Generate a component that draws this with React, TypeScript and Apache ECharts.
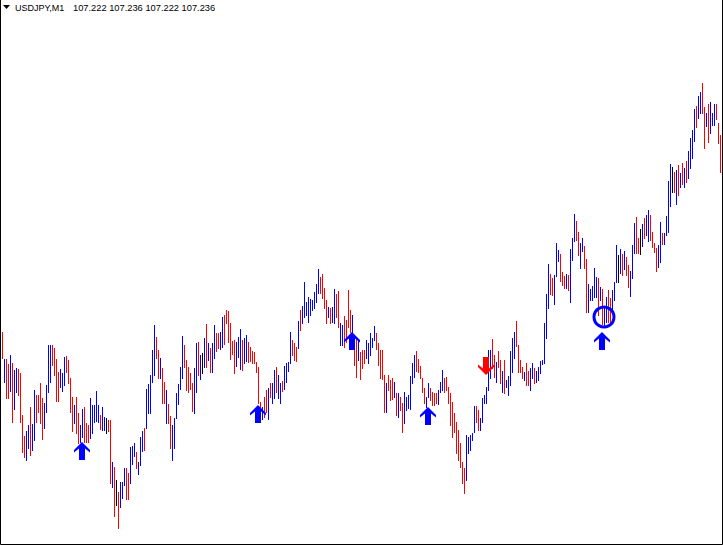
import { useEffect, useRef } from "react";
import * as echarts from "echarts";

// Chart title and last quote (open, high, low, close)
const symbolLabel = "USDJPY,M1";
const quoteLabels = ["107.222", "107.236", "107.222", "107.236"];

// Bar highs and lows in chart points (one value per 1-minute bar, oldest first)
const highs = [
  213, 186, 186, 181, 190, 182, 175, 177, 176, 172,
  130, 109, 114, 120, 138, 121, 155, 150, 150, 162,
  147, 142, 160, 200, 200, 200, 197, 186, 173, 176,
  172, 188, 189, 185, 167, 148, 140, 148, 132, 120,
  136, 138, 122, 120, 147, 140, 140, 154, 140, 130,
  138, 128, 127, 125, 125, 83, 78, 65, 53, 63,
  63, 77, 77, 72, 98, 99, 102, 93, 83, 108,
  114, 117, 156, 161, 170, 195, 220, 208, 195, 187,
  177, 163, 155, 141, 129, 120, 127, 152, 161, 178,
  209, 200, 185, 178, 172, 162, 177, 202, 203, 190,
  192, 207, 221, 202, 197, 202, 220, 212, 212, 213,
  228, 230, 235, 234, 222, 204, 205, 203, 208, 216,
  205, 207, 210, 203, 198, 194, 193, 183, 178, 143,
  138, 148, 155, 157, 162, 162, 175, 178, 170, 162,
  164, 179, 182, 183, 213, 205, 202, 198, 224, 235,
  239, 263, 243, 248, 246, 245, 253, 261, 276, 268,
  271, 257, 245, 238, 237, 238, 256, 251, 254, 222,
  220, 229, 225, 255, 235, 230, 200, 207, 205, 193,
  195, 195, 205, 202, 212, 207, 219, 212, 202, 195,
  195, 170, 162, 170, 165, 167, 163, 152, 152, 148,
  142, 153, 148, 150, 169, 182, 190, 194, 186, 179,
  167, 157, 148, 162, 157, 153, 152, 152, 155, 163,
  175, 167, 168, 158, 152, 143, 132, 123, 115, 102,
  83, 77, 110, 108, 110, 112, 139, 139, 135, 127,
  147, 150, 158, 195, 195, 206, 190, 183, 194, 185,
  174, 185, 165, 169, 194, 207, 213, 224, 200, 185,
  178, 173, 182, 174, 177, 182, 177, 174, 178, 184,
  185, 222, 251, 281, 271, 267, 270, 302, 295, 291,
  273, 269, 271, 270, 296, 307, 331, 324, 313, 302,
  307, 299, 286, 261, 256, 259, 277, 268, 267, 258,
  256, 238, 248, 255, 247, 255, 263, 300, 290, 296,
  291, 294, 288, 280, 274, 300, 322, 328, 307, 316,
  321, 327, 330, 335, 330, 313, 302, 297, 300, 323,
  312, 312, 329, 364, 381, 378, 373, 375, 380, 372,
  382, 377, 384, 394, 407, 415, 436, 439, 449, 453,
  462, 438, 432, 441, 443, 432, 441, 441, 422, 410,
];

const lows = [
  187, 163, 147, 147, 154, 123, 136, 153, 150, 123,
  93, 88, 85, 97, 90, 95, 105, 123, 133, 122,
  106, 117, 133, 153, 163, 180, 170, 144, 144, 158,
  154, 160, 173, 162, 133, 114, 122, 112, 102, 103,
  108, 103, 103, 103, 107, 112, 123, 124, 123, 116,
  115, 115, 112, 114, 62, 58, 29, 40, 17, 38,
  47, 60, 46, 46, 62, 81, 89, 77, 71, 80,
  94, 95, 117, 132, 132, 163, 170, 187, 167, 167,
  142, 142, 122, 122, 97, 85, 97, 127, 141, 156,
  167, 178, 155, 153, 156, 134, 132, 153, 170, 166,
  172, 178, 178, 185, 173, 173, 187, 194, 197, 196,
  198, 201, 222, 203, 186, 191, 172, 179, 188, 176,
  175, 182, 184, 183, 184, 182, 182, 173, 142, 128,
  126, 128, 133, 126, 148, 142, 147, 153, 147, 142,
  154, 156, 163, 174, 182, 190, 185, 184, 197, 215,
  222, 228, 230, 223, 230, 235, 237, 243, 252, 252,
  247, 237, 222, 228, 222, 223, 222, 228, 218, 200,
  200, 198, 203, 218, 213, 207, 180, 168, 185, 166,
  177, 182, 187, 182, 190, 198, 205, 196, 180, 167,
  166, 133, 133, 155, 145, 146, 148, 130, 128, 135,
  113, 122, 135, 137, 136, 162, 168, 174, 173, 167,
  153, 142, 138, 148, 145, 140, 140, 142, 141, 153,
  155, 153, 155, 142, 120, 108, 113, 92, 85, 78,
  62, 52, 65, 92, 95, 105, 113, 123, 115, 115,
  123, 142, 142, 155, 167, 177, 168, 163, 178, 162,
  153, 152, 158, 150, 160, 173, 187, 199, 173, 173,
  167, 165, 160, 160, 155, 167, 162, 163, 165, 172,
  181, 182, 207, 237, 251, 250, 241, 269, 284, 264,
  260, 257, 257, 255, 243, 285, 304, 305, 290, 277,
  294, 277, 233, 233, 245, 245, 248, 248, 230, 245,
  221, 220, 223, 223, 222, 235, 245, 263, 263, 272,
  270, 276, 270, 258, 249, 267, 292, 292, 292, 291,
  299, 307, 310, 304, 305, 298, 293, 274, 278, 283,
  301, 301, 310, 313, 339, 353, 353, 341, 350, 358,
  361, 358, 363, 367, 377, 387, 404, 418, 427, 432,
  432, 397, 419, 403, 412, 420, 420, 426, 402, 373,
];

// Bar direction: u = up (close > open), d = down, n = unchanged
const directions = [
  "dudduduudd", "dduuduuddd", "duuuuddddu", "uudddduddu", "uddduuuuud",
  "uunddudndu", "uudduuuduu", "uduuuuuddu", "ddudduuuuu", "uddddduudu",
  "nududuuddu", "udddddduuu", "duuddddddd", "udduduuduu", "duuuudddud",
  "uuuuuuuuud", "ddduduuddu", "udddduddud", "dduuuuuddd", "ddudddudud",
  "duuuuuuddd", "dduudddduu", "uddddddddd", "dduuuuuddu", "uuuuuddudd",
  "uduuuuuddd", "dudduuduuu", "uuuudduuud", "dduduuuddu", "udduuuuudu",
  "duudduuunu", "dudduuuddn", "uduudddduu", "duuuundudu", "duduuuuduu",
  "dduduuuddd",
].join("");

// Signal marks: [bar index, price level in chart points]
const buySignals = [
  [40, 94],
  [128, 131],
  [175, 204],
  [213, 129],
  [300, 204],
];
const sellSignals = [[242, 179]];
const circleMarks = [[301, 228]];

const UP_COLOR = "#0000FF";
const DOWN_COLOR = "#FF0000";
const FLAT_COLOR = "#000000";

const UP_ARROW =
  "path://M8 0L16 8L16 10.5L11 6.5L11 18L5 18L5 6.5L0 10.5L0 8Z";
const DOWN_ARROW =
  "path://M8 18L16 10L16 7.5L11 11.5L11 0L5 0L5 11.5L0 7.5L0 10Z";

export default function App() {
  const ref = useRef<HTMLDivElement>(null);

  useEffect(() => {
    document.body.style.margin = "0";
    const el = ref.current;
    if (!el) return;
    const chart = echarts.init(el, null, { renderer: "svg" });

    const barData = highs.map((h, i) => {
      const c = directions[i];
      const code = c === "u" ? 1 : c === "d" ? -1 : 0;
      return [i, lows[i], h, code];
    });

    chart.setOption({
      animation: false,
      backgroundColor: "#FFFFFF",
      grid: { left: 1, top: 0, width: 720, height: 545 },
      xAxis: {
        type: "category",
        data: highs.map((_, i) => String(i)),
        boundaryGap: true,
        show: false,
      },
      yAxis: { type: "value", min: 0, max: 545, show: false },
      series: [
        {
          type: "custom",
          data: barData,
          encode: { x: 0, y: [1, 2] },
          z: 2,
          renderItem: (params: any, api: any) => {
            const i = api.value(0);
            const lo = api.value(1);
            const hi = api.value(2);
            const code = api.value(3);
            const top = api.coord([i, hi]);
            const bot = api.coord([i, lo]);
            const fill =
              code > 0 ? UP_COLOR : code < 0 ? DOWN_COLOR : FLAT_COLOR;
            return {
              type: "rect",
              shape: {
                x: Math.round(top[0]),
                y: Math.round(top[1]),
                width: 1,
                height: Math.round(bot[1] - top[1]) + 1,
              },
              style: { fill },
            };
          },
        },
        {
          type: "scatter",
          data: buySignals,
          symbol: UP_ARROW,
          symbolSize: [16, 18],
          itemStyle: { color: UP_COLOR, opacity: 1 },
          emphasis: { disabled: true },
          z: 5,
        },
        {
          type: "scatter",
          data: sellSignals,
          symbol: DOWN_ARROW,
          symbolSize: [16, 18],
          itemStyle: { color: DOWN_COLOR, opacity: 1 },
          emphasis: { disabled: true },
          z: 5,
        },
        {
          type: "scatter",
          data: circleMarks,
          symbol: "circle",
          symbolSize: 20,
          itemStyle: {
            color: "rgba(0,0,0,0)",
            borderColor: UP_COLOR,
            borderWidth: 3,
            opacity: 1,
          },
          emphasis: { disabled: true },
          z: 6,
        },
      ],
      graphic: [
        {
          type: "rect",
          shape: { x: 0.5, y: -1, width: 722, height: 545.5 },
          style: { fill: "none", stroke: "#000000", lineWidth: 1 },
          silent: true,
          z: 10,
        },
        {
          type: "polygon",
          shape: {
            points: [
              [3, 5],
              [10, 5],
              [6.5, 9],
            ],
          },
          style: { fill: "#000000" },
          z: 10,
        },
        {
          type: "text",
          x: 15,
          y: 8,
          style: {
            text: symbolLabel,
            font: '9px "Liberation Sans", Arial, sans-serif',
            fill: "#000000",
            verticalAlign: "middle",
          },
          z: 10,
        },
        {
          type: "text",
          x: 73,
          y: 8,
          style: {
            text: quoteLabels.join(" "),
            font: '9.3px "Liberation Sans", Arial, sans-serif',
            fill: "#000000",
            verticalAlign: "middle",
          },
          z: 10,
        },
      ],
    });

    return () => chart.dispose();
  }, []);

  return <div ref={ref} style={{ width: 723, height: 545 }} />;
}
